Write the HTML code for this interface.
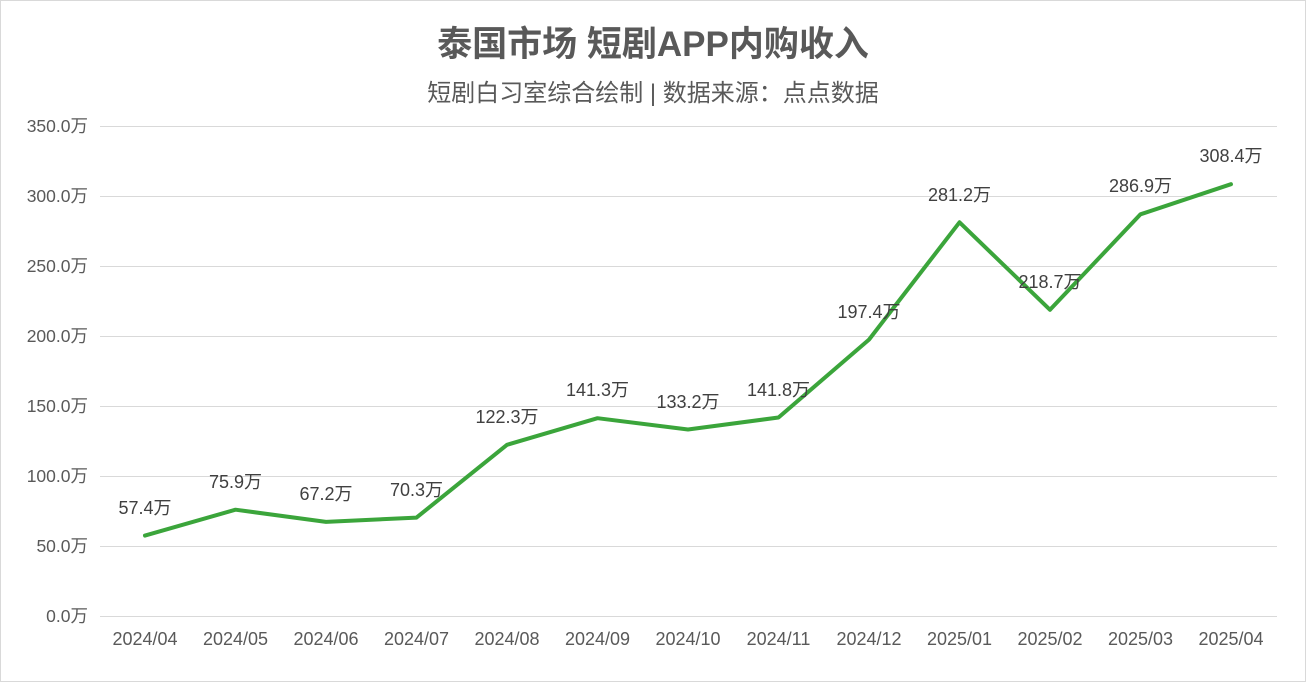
<!DOCTYPE html>
<html><head><meta charset="utf-8"><style>
html,body{margin:0;padding:0;background:#fff;}
svg text{font-family:"Liberation Sans","Noto Sans CJK SC",sans-serif;}
</style></head><body>
<svg width="1306" height="682" viewBox="0 0 1306 682" xmlns="http://www.w3.org/2000/svg">
<rect x="0.5" y="0.5" width="1305" height="681" fill="#fff" stroke="#d9d9d9"/>
<text x="653" y="56" text-anchor="middle" font-size="35" font-weight="bold" fill="#595959">泰国市场 短剧APP内购收入</text>
<text x="653" y="101" text-anchor="middle" font-size="24" fill="#595959">短剧白习室综合绘制 | 数据来源：点点数据</text>
<g stroke="#d9d9d9" stroke-width="1">
<line x1="100" x2="1277" y1="126.5" y2="126.5"/>
<line x1="100" x2="1277" y1="196.5" y2="196.5"/>
<line x1="100" x2="1277" y1="266.5" y2="266.5"/>
<line x1="100" x2="1277" y1="336.5" y2="336.5"/>
<line x1="100" x2="1277" y1="406.5" y2="406.5"/>
<line x1="100" x2="1277" y1="476.5" y2="476.5"/>
<line x1="100" x2="1277" y1="546.5" y2="546.5"/>
<line x1="100" x2="1277" y1="616.5" y2="616.5"/>
</g>
<g font-size="17.5" fill="#595959" text-anchor="end">
<text x="88" y="132">350.0万</text>
<text x="88" y="202">300.0万</text>
<text x="88" y="272">250.0万</text>
<text x="88" y="342">200.0万</text>
<text x="88" y="412">150.0万</text>
<text x="88" y="482">100.0万</text>
<text x="88" y="552">50.0万</text>
<text x="88" y="622">0.0万</text>
</g>
<g font-size="18" fill="#595959" text-anchor="middle">
<text x="145" y="645">2024/04</text>
<text x="235.5" y="645">2024/05</text>
<text x="326" y="645">2024/06</text>
<text x="416.5" y="645">2024/07</text>
<text x="507" y="645">2024/08</text>
<text x="597.5" y="645">2024/09</text>
<text x="688" y="645">2024/10</text>
<text x="778.5" y="645">2024/11</text>
<text x="869" y="645">2024/12</text>
<text x="959.5" y="645">2025/01</text>
<text x="1050" y="645">2025/02</text>
<text x="1140.5" y="645">2025/03</text>
<text x="1231" y="645">2025/04</text>
</g>
<polyline fill="none" stroke="#3ba53b" stroke-width="4" stroke-linejoin="round" stroke-linecap="round"
points="145,535.6 235.5,509.7 326,521.9 416.5,517.6 507,444.8 597.5,418.2 688,429.5 778.5,417.5 869,339.6 959.5,222.3 1050,309.8 1140.5,214.3 1231,184.2"/>
<g font-size="18" fill="#404040" text-anchor="middle">
<text x="145" y="514">57.4万</text>
<text x="235.5" y="488">75.9万</text>
<text x="326" y="500">67.2万</text>
<text x="416.5" y="496">70.3万</text>
<text x="507" y="423">122.3万</text>
<text x="597.5" y="396">141.3万</text>
<text x="688" y="408">133.2万</text>
<text x="778.5" y="396">141.8万</text>
<text x="869" y="318">197.4万</text>
<text x="959.5" y="201">281.2万</text>
<text x="1050" y="288">218.7万</text>
<text x="1140.5" y="192">286.9万</text>
<text x="1231" y="162">308.4万</text>
</g>
</svg>
</body></html>
